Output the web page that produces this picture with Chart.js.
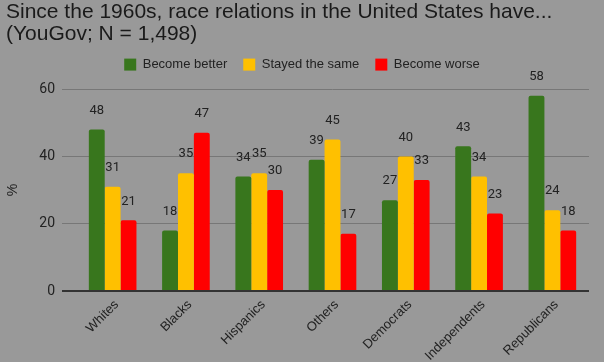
<!DOCTYPE html>
<html>
<head>
<meta charset="utf-8">
<script src="https://cdn.jsdelivr.net/npm/chart.js@4.4.1/dist/chart.umd.min.js"></script>
<style>
  html, body { margin: 0; padding: 0; background: #999999; }
  #wrap { width: 604px; height: 362px; position: relative; }
</style>
</head>
<body>
<div id="wrap"><canvas id="c" width="604" height="362"></canvas></div>
<script>
const categories = ["Whites", "Blacks", "Hispanics", "Others", "Democrats", "Independents", "Republicans"];
const seriesNames = ["Become better", "Stayed the same", "Become worse"];
const becomeBetter = [48, 18, 34, 39, 27, 43, 58];
const stayedSame = [31, 35, 35, 45, 40, 34, 24];
const becomeWorse = [21, 47, 30, 17, 33, 23, 18];
const yTicks = [0, 20, 40, 60];
const titleLines = ["Since the 1960s, race relations in the United States have...", "(YouGov; N = 1,498)"];
const colors = ["#38761d", "#ffc000", "#ff0000"];

const labelPlugin = {
  id: 'barLabels',
  afterDatasetsDraw(chart) {
    const ctx = chart.ctx;
    ctx.save();
    ctx.font = '13px Roboto, "Liberation Sans", Arial, sans-serif';
    ctx.fillStyle = '#222222';
    ctx.textAlign = 'center';
    ctx.textBaseline = 'middle';
    chart.data.datasets.forEach((ds, i) => {
      const meta = chart.getDatasetMeta(i);
      meta.data.forEach((el, j) => {
        ctx.fillText(String(ds.data[j]), el.x, el.y - 19);
      });
    });
    ctx.restore();
  }
};

new Chart(document.getElementById('c'), {
  type: 'bar',
  data: {
    labels: categories,
    datasets: [
      { label: seriesNames[0], data: becomeBetter, backgroundColor: colors[0] },
      { label: seriesNames[1], data: stayedSame, backgroundColor: colors[1] },
      { label: seriesNames[2], data: becomeWorse, backgroundColor: colors[2] }
    ]
  },
  options: {
    responsive: false,
    animation: false,
    devicePixelRatio: 1,
    layout: { padding: { left: 6, right: 6, top: 0, bottom: 0 } },
    datasets: {
      bar: { categoryPercentage: 0.65, barPercentage: 1.0, borderRadius: 2, borderSkipped: 'bottom' }
    },
    plugins: {
      title: {
        display: true,
        text: titleLines,
        align: 'start',
        color: '#1a1a1a',
        font: { family: '"Liberation Sans", Arial, sans-serif', size: 21, weight: 'normal', lineHeight: 1.05 },
        padding: { top: 1, bottom: -3 }
      },
      subtitle: {
        display: true,
        text: '',
        weight: 500,
        font: { size: 1, lineHeight: 1 },
        padding: { top: 7, bottom: 0 }
      },
      legend: {
        display: true,
        position: 'top',
        align: 'center',
        labels: {
          boxWidth: 12, boxHeight: 12,
          color: '#222222',
          font: { family: '"Liberation Sans", Arial, sans-serif', size: 13 },
          padding: 16
        }
      },
      tooltip: { enabled: false }
    },
    scales: {
      x: {
        grid: { display: false, drawTicks: false },
        border: { display: false },
        afterFit(scale) { scale.height = 71; },
        ticks: {
          color: '#222222',
          font: { family: '"Liberation Sans", Arial, sans-serif', size: 13 },
          minRotation: 45, maxRotation: 45,
          labelOffset: 4,
          padding: 6
        }
      },
      y: {
        min: 0, max: 60,
        afterFit(scale) { scale.width = 70; },
        afterBuildTicks(scale) { scale.ticks = yTicks.map(v => ({ value: v })); },
        grid: {
          color: (c) => (c.tick && c.tick.value === 0) ? '#333333' : '#777777',
          lineWidth: (c) => (c.tick && c.tick.value === 0) ? 2 : 1,
          drawTicks: true,
          tickLength: 14
        },
        border: { display: false },
        ticks: {
          color: '#222222',
          font: { family: 'Roboto, "Liberation Sans", Arial, sans-serif', size: 14 },
          padding: 7
        },
        title: {
          display: true,
          text: '%',
          color: '#222222',
          font: { family: '"Liberation Sans", Arial, sans-serif', size: 14 },
          padding: { top: -1, bottom: 0 }
        }
      },
      yRight: {
        type: 'linear',
        position: 'right',
        min: 0, max: 60,
        afterFit(scale) { scale.width = 9; },
        grid: { display: false, drawOnChartArea: false, drawTicks: false },
        border: { display: false },
        ticks: { display: false }
      }
    }
  },
  plugins: [labelPlugin]
});
</script>
</body>
</html>
